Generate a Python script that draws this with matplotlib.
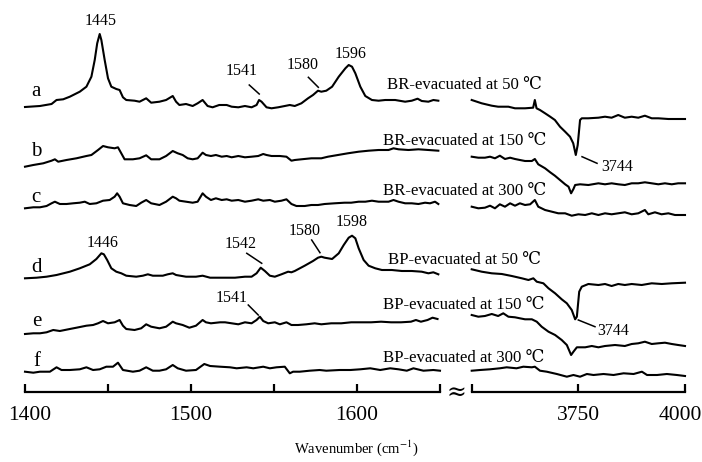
import matplotlib
matplotlib.use("Agg")
import matplotlib.pyplot as plt
import matplotlib.transforms as mtransforms

plt.rcParams['font.family'] = ['Liberation Serif', 'DejaVu Serif']
plt.rcParams['mathtext.fontset'] = 'stix'

# ---------------- data (absorbance, arbitrary units) ----------------
trace_names = ['a', 'b', 'c', 'd', 'e', 'f']
sample_labels = ['BR-evacuated at 50 \u2103', 'BR-evacuated at 150 \u2103', 'BR-evacuated at 300 \u2103',
                 'BP-evacuated at 50 \u2103', 'BP-evacuated at 150 \u2103', 'BP-evacuated at 300 \u2103']

# low-wavenumber region (1400-1650 cm-1)
a_lw = [1400,1409,1416,1419,1423,1427,1433,1437,1440,1442,1443.5,1445,1446,1448,1450,1452,1455,1457,1459,1461,
        1466,1469,1473,1476,1481,1485,1489,1491,1493,1497,1501,1504,1507,1510,1513,1517,1521.5,1524.5,1528.5,1532.5,
        1536.5,1539.5,1541,1542.5,1545.5,1548.5,1552.5,1556.5,1559.5,1562.5,1566.5,1570.5,1573.5,1576.5,1578.5,1581.5,
        1585,1589,1593,1595,1597,1599,1602,1605,1609,1613,1617,1623,1629,1633,1636.5,1639,1643,1646,1649]
a_lv = [0,1,3,7,7.7,10.3,15.3,20.3,30.3,47,63.7,73,67,47,28.7,20.3,18,17,9.7,7,
        6.3,5.3,8.7,4.3,5.3,7,11,5.3,2,3,1,3.7,7,1,-0.3,2,2,0.3,-0.3,1,
        -0.3,2,7,5.3,-0.3,-1.3,-0.3,1,2,1,3.7,8.7,12,16.3,15.3,16.3,
        20.3,30.3,38.7,42,40.3,33.7,20.3,11,7,6.3,7,7,5.3,6.3,8.3,6,5.3,7,6.3]

b_lw = [1400,1405,1411,1416,1418,1420,1425,1431,1437,1440,1444,1447,1450,1454,1456,1458,1460,1465,1469,1473,
        1476,1481,1485,1489,1492,1495,1498,1501,1504,1507,1509,1512,1515,1518.5,1521.5,
        1524.5,1528.5,1532.5,1536.5,1540.5,1543.5,1545.5,1548.5,1553.5,1557.5,1560.5,1562.5,1566.5,1572.5,
        1578.5,1582.5,1588.5,1594.5,1601,1607,1613,1619,1622,1625,1631,1637,1643,1649]
b_lv = [0.3,2,3.7,6.3,7.7,5.3,7,8.7,11,12,17,21,19.7,18.7,19.7,13.7,7.7,7.7,8.7,11.7,
        7.7,7.7,11,16,13.7,12,8.7,7.7,8.7,14.3,12,11,12,10.3,11,
        9.7,11,9.7,10.3,11,13,12,11,11,10.3,6.3,7,7.7,8.7,
        8.7,10.3,12,13.7,15.3,16.3,17,17,18.7,17.7,17,17.7,17,16.3]

c_lw = [1400,1405,1409,1413,1416,1418,1421,1425,1429,1433,1436,1439,1443,1447,1451,1454,1455.5,1457,1459,1463,
        1467,1470,1473,1476,1481,1485,1489,1491,1493,1497,1501,1504,1507,1509,1512,1515,1518.5,1521.5,
        1524.5,1528.5,1532.5,1536.5,1540.5,1543.5,1547.5,1550.5,1554.5,1557.5,1560.5,1563.5,1568.5,1572.5,
        1576.5,1580.5,1586.5,1592.5,1596.5,1601,1605,1609,1613,1619,1622,1625,1629,1633,1637,1641,1644,1647,1649]
c_lv = [-0.3,0.7,0.7,2,4.7,6.3,4,4,4.7,5.3,6.3,4,4.7,7.3,8,11.3,14.7,11.3,4.7,3,
        2,5.3,8,4.7,3,6.3,11.3,9.7,7.3,6.3,5.3,6.3,14.7,11.3,8,9.7,8,8.7,
        7.3,8,6.3,7.3,8.7,7.3,8,6.3,7.3,8.7,4,2,2,3,
        3,4,4.7,5.3,5.3,6.3,6.3,7.3,6.3,6.3,8,6.3,4.7,4.7,4,5.3,4.7,6.3,4]

d_lw = [1400,1407,1413,1419,1427,1433,1439,1443,1446,1447.5,1449.5,1452,1455,1458,1461,1467,1471,1474,1477,1483,
        1486,1489,1491,1497,1503,1507,1511.5,1517.5,
        1520.5,1526.5,1532.5,1536.5,1539.5,1542,1544.5,1547.5,1550.5,1554.5,1558.5,1560.5,1562.5,1568.5,1573.5,
        1576.5,1578.5,1580.5,1585,1589,1592,1595,1597,1599,1601,1604,1607,1611,1615,1621,1627,1633,1639,1643,1646,1649]
d_lv = [0.7,1.3,2.3,4,7.3,10.7,14.7,20,25.7,24.7,19,10.7,7.3,5.7,3.3,2.3,3.3,4.7,3.3,3.3,
        4.7,5.7,4,2.3,2.3,3.3,1.3,1.3,
        1.3,1.3,2.3,2.3,5.7,11.3,8,3.3,2.3,4.7,7.3,6.7,8,13.3,18,
        21.3,22.3,21.3,20,25.7,34,41.3,43.3,40.7,30.7,19,13.3,10.7,9,9,8,8,7.3,5.7,6.7,4.7]

e_lw = [1400,1405,1409,1413,1417,1421,1427,1431,1437,1441,1444,1447,1450,1454,1457,1459,1461,1466,1470,1473,
        1476,1481,1485,1489,1491,1495,1499,1503,1507,1509,1512,1517.5,
        1520.5,1524.5,1528.5,1532.5,1536.5,1539.5,1541.5,1543.5,1546.5,1550.5,1553.5,1557.5,1560.5,1564.5,1569.5,
        1574.5,1578.5,1584.5,1590.5,1596.5,1602.5,1608.5,1614.5,1620.5,1626.5,1632.5,1635.5,1638.5,1642.5,1645.5,1648.5]
e_lv = [0,0.7,0.7,1.7,4,3,5,6.3,8.3,9,10.7,13,10.7,11.7,14,8.3,5,4,5.7,9.7,
        7.3,5.7,7.3,12.3,10.7,9,6.3,8.3,14,11.7,10.7,11.7,
        11.7,10.7,9.7,11.7,10.7,14,17.3,13,10.7,11.7,9.7,11.7,9,9,9.7,
        10.7,9.7,10.7,10.7,11.7,11.7,11.7,12.3,11.7,11.7,12.3,14,12.3,14,16.3,15]

f_lw = [1400,1405,1409,1415,1419,1422,1427,1433,1437,1441,1445,1449,1453,1456,1459,1465,1469,1473,1477,1481,
        1485,1489,1492,1497,1503,1508,1511.5,1517.5,1523.5,1527.5,1533.5,1537.5,1543.5,1547.5,1551.5,1556.5,
        1559.5,1561.5,1565.5,1571.5,1577.5,1581.5,1589.5,1596,1602,1608,1614,1620,1625,1630,1634,1640,1646,1650]
f_lv = [0.3,-0.7,0.3,0.3,4.7,2,2,2.7,4.7,2,2.7,5.3,5.3,9.3,2,0.3,1.3,4.7,1.3,1.3,
        2.7,7,3.7,1.3,2,8,6,5.3,4.7,3.7,4.7,3.7,5.3,3.7,4.7,5.3,
        -1.3,0.3,0.3,1.3,2,1.3,2,2,2.7,3.7,2,3.7,2.7,1.3,3.7,1.3,2,1.3]

# high-wavenumber region (3500-4000 cm-1)
a_rw = [3500,3523.4,3547,3562,3586,3601.5,3625,3644,3648,3652,3660,3672,3684,3695,3707,3719,3730.5,3738,3744,
        3748.5,3754,3758,3773,3797,3812.5,3828,3843.5,3859,3875,3890.5,3906,3922,3937.5,3961,3984,4000]
a_rv = [7,3.7,1.3,0.3,0.3,-1.3,-1.3,-0.7,7,-1.3,-3,-6.3,-9.7,-13,-19.7,-24.7,-29.7,-36.3,-48,
        -38,-13,-11.3,-11.3,-10.7,-9.7,-10.7,-8,-10.7,-9.7,-10.7,-8.7,-11.3,-11.3,-12,-12,-12]

b_rw = [3500,3515.5,3531,3543,3554.5,3566,3578,3590,3601.5,3613,3625,3641,3648,3656,3672,3684,3695,3707,3719,
        3727,3733,3738.5,3742.5,3754,3773.5,3797,3812.5,3828,3843.5,3859,3875,3890.5,3906,3922,3937.5,3953,3969,3984,4000]
b_rv = [10.3,9.3,9.3,10.3,8.7,11.3,8,9.3,8,7,6,6,8,2.7,-1.3,-5.3,-8.7,-13,-17.3,
        -19.7,-26.3,-22,-18,-17.3,-18,-16.3,-17.3,-16.3,-17.3,-18,-16.3,-16.3,-15.3,-16.3,-17.3,-16.3,-17.3,-16.3,-16.3]

c_rw = [3500,3515.5,3531,3543,3554.5,3566,3578,3590,3601.5,3613,3625,3637,3648,3656,3672,3688,3703,3719,
        3734.5,3750,3766,3781.5,3797,3812.5,3828,3843.5,3859,3875,3890.5,3906,3914,3929.5,3945,3961,3976.5,4000]
c_rv = [1.3,-0.3,0.3,2.3,-0.3,3.7,1.3,4.7,2.3,4.7,3,3.7,8,1.3,-2,-3.7,-5.3,-5.3,
        -7.7,-6.3,-7,-5.3,-7,-5.3,-6.3,-5.3,-4.3,-6.3,-5.3,-2,-6.3,-4.3,-6.3,-5.3,-7,-7]

d_rw = [3500,3523.5,3547,3570.5,3594,3617.5,3633,3644.5,3652.5,3668,3680,3695.5,3711,3723,3734.5,3742.5,
        3746.5,3752,3758,3773.5,3797,3812.5,3828,3843.5,3859,3875,3898.5,3922,3945.5,3969,4000]
d_rv = [9.7,7.3,5.7,5,3,0.7,-1,0.7,-2.7,-4.3,-9.3,-14.3,-20.3,-24.3,-31,-40.3,
        -37.7,-12.7,-7.7,-5,-6,-5,-7,-5,-6,-5,-6,-4.3,-5,-4.3,-3.7]

e_rw = [3500,3515.5,3531,3547,3562,3574,3586,3601.5,3613,3625,3641,3652.5,3664,3680,3695.5,3711,3723,3733,
        3738.5,3746.5,3766,3781.5,3797,3812.5,3836,3859,3875,3890.5,3906,3922,3937.5,3953,3969,3984,4000]
e_rv = [19,17.3,18,20,18,20.7,17.3,16.7,15.7,14.7,14.7,12.3,7.3,2.3,-1,-6,-11,-21,
        -17.7,-13.3,-13.3,-12,-13.3,-12,-11,-12,-10,-9.3,-7.7,-10,-9.3,-8.7,-10,-11,-12]

f_rw = [3500,3519.5,3543,3566,3582,3605,3621,3641,3648,3660,3676,3699.5,3723,3738.5,3754,3770,3785.5,3809,
        3832.5,3856,3879.5,3899,3911,3934.5,3957.5,3981,4000]
f_rv = [1.3,2,2.7,3.7,4.7,3.7,5.3,4.7,5.3,1.3,0.3,-2,-4.7,-3,-4.7,-2,-3,-2,
        -3,-1.3,-2,0.3,-3,-3,-2,-3,-4]

low_ticks = [1400, 1450, 1500, 1550, 1600, 1650]
low_tick_labels = ['1400', '', '1500', '', '1600', '']
high_ticks = [3500, 3750, 4000]
high_tick_labels = ['', '3750', '4000']

# ---------------- layout ----------------
W, H = 702, 462
fig = plt.figure(figsize=(W / 100, H / 100), dpi=100)

def px_axes(x0, x1, y0, y1):
    return fig.add_axes([x0 / W, 1 - y1 / H, (x1 - x0) / W, (y1 - y0) / H])

axL = px_axes(25, 440, 0, 392)
axR = px_axes(471.7, 685, 0, 392)

offsets = [-107, -167, -208, -279, -334, -372]
low = [(a_lw, a_lv), (b_lw, b_lv), (c_lw, c_lv), (d_lw, d_lv), (e_lw, e_lv), (f_lw, f_lv)]
high = [(a_rw, a_rv), (b_rw, b_rv), (c_rw, c_rv), (d_rw, d_rv), (e_rw, e_rv), (f_rw, f_rv)]

for off, (w, v) in zip(offsets, low):
    axL.plot(w, [off + y for y in v], color='black', lw=1.5, solid_joinstyle='round', clip_on=False)
for off, (w, v) in zip(offsets, high):
    axR.plot(w, [off + y for y in v], color='black', lw=1.5, solid_joinstyle='round', clip_on=False)

for ax, lim, ticks, labels in [(axL, (1400, 1650), low_ticks, low_tick_labels),
                                (axR, (3500, 4000), high_ticks, high_tick_labels)]:
    ax.set_xlim(*lim)
    ax.set_ylim(-392, 0)
    ax.patch.set_visible(False)
    for s in ['top', 'left', 'right']:
        ax.spines[s].set_visible(False)
    ax.spines['bottom'].set_linewidth(1.6)
    ax.set_yticks([])
    ax.set_xticks(ticks)
    ax.set_xticklabels(labels)
    ax.tick_params(axis='x', direction='in', length=6, width=1.6, labelsize=15.5, pad=10)

# nudge the two edge tick labels inwards, as in the reference
fig.canvas.draw()
lbl_first = axL.get_xticklabels()[0]
lbl_first.set_transform(lbl_first.get_transform() +
                        mtransforms.ScaledTranslation(5 / 100, 0, fig.dpi_scale_trans))
lbl_last = axR.get_xticklabels()[-1]
lbl_last.set_transform(lbl_last.get_transform() +
                       mtransforms.ScaledTranslation(-5 / 100, 0, fig.dpi_scale_trans))

# peak labels with leader lines
def peak_label(ax, text, tx, ty, line=None):
    ax.text(tx, ty, text, ha='center', va='center', fontsize=11.5)
    if line is not None:
        (x0, y0), (x1, y1) = line
        ax.plot([x0, x1], [y0, y1], color='black', lw=1.1)

peak_label(axL, '1445', 1445.8, -20.5)
peak_label(axL, '1541', 1530.7, -70.5, ((1535.1, -85), (1541.1, -94)))
peak_label(axL, '1580', 1567.2, -64.7, ((1570.7, -77.3), (1576.7, -87.3)))
peak_label(axL, '1596', 1596.4, -53.7)
peak_label(axL, '1446', 1446.7, -242.5)
peak_label(axL, '1542', 1530.1, -244, ((1533.6, -253.3), (1542.6, -263.3)))
peak_label(axL, '1580', 1568.7, -231, ((1572.7, -240), (1577.7, -252.7)))
peak_label(axL, '1598', 1596.7, -222)
peak_label(axL, '1541', 1524.7, -297.5, ((1534.5, -305), (1540.5, -315)))
peak_label(axR, '3744', 3839.9, -166.7, ((3758.6, -156.7), (3793.8, -163.3)))
peak_label(axR, '3744', 3830.5, -331, ((3749.9, -320), (3789.0, -326.7)))

# trace letters
letter_pos = [(36, 91), (36, 151), (36, 197), (37, 267), (37, 322), (37, 361)]
for name, (x, y) in zip(trace_names, letter_pos):
    fig.text(x / W, 1 - y / H, name, ha='center', va='center', fontsize=15)

# sample labels
label_pos = [(387, 85), (383, 141), (383, 191), (388, 260), (383, 305), (383, 357.5)]
for txt, (x, y) in zip(sample_labels, label_pos):
    fig.text(x / W, 1 - y / H, txt, ha='left', va='center', fontsize=12.1)

# axis break symbol and x-axis title
fig.text(456 / W, 1 - 392 / H, '\u2248', ha='center', va='center', fontsize=17, family=['DejaVu Serif'])
fig.text(356 / W, 1 - 448 / H, 'Wavenumber (cm$^{-1}$)', ha='center', va='center', fontsize=10.5)

fig.savefig('out.png', dpi=100)
